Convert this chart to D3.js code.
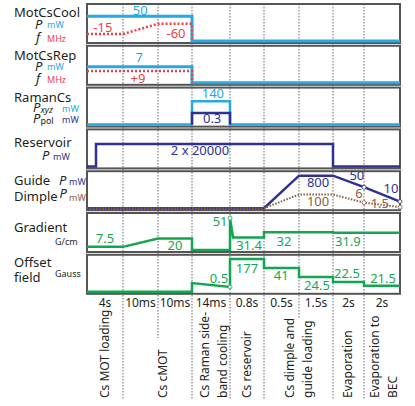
<!DOCTYPE html>
<html>
<head>
<meta charset="utf-8">
<script src="https://cdn.jsdelivr.net/npm/d3@7"></script>
<style>
  body { margin: 0; background: #fff; }
  svg text { font-family: "Noto Sans", sans-serif; }
</style>
</head>
<body>
<script>
// phases of the sequence
var durations = ["4s", "10ms", "10ms", "14ms", "0.8s", "0.5s", "1.5s", "2s", "2s"];
var phaseNames = ["Cs MOT loading", "Cs cMOT", "Cs Raman side-\nband cooling", "Cs reservoir",
                  "Cs dimple and\nguide loading", "Evaporation", "Evaporation to\nBEC"];

// traces: [time in phase units, relative level as drawn (0..1)]
var coolP    = [[0, .71], [3, .71], [3, 0], [9, 0]];
var coolF    = [[0, .2], [1, .2], [2, .49], [3, .49], [3, 0]];
var repP     = [[0, .46], [3, .46], [3, 0], [9, 0]];
var repF     = [[0, .34], [3, .34], [3, 0]];
var ramanXyz = [[0, 0], [3, 0], [3, .67], [4, .67], [4, 0], [9, 0]];
var ramanPol = [[3, 0], [3, .33], [4, .33], [4, 0]];
var resP     = [[0, 0], [0.25, 0], [0.25, .64], [7, .64], [7, 0], [9, 0]];
var guideP   = [[0, 0], [5, 0], [6, .93], [7, .93], [8, .6], [9, .19]];
var dimpleP  = [[0, 0], [5, 0], [6, .39], [7, .39], [8, .16], [9, .03]];
var gradient = [[0, .09], [1, .09], [2, .33], [3, .33], [3, 0], [4, 0], [4, .91], [4.09, .36],
                [5, .36], [5, .51], [7, .51], [7, .49], [9, .49]];
var offset   = [[0, 0], [3, 0], [3, .25], [4, .14], [4, .94], [5, .94], [5, .68], [6, .68],
                [6, .42], [7, .42], [7, .28], [8, .28], [8, .17], [9, .17]];

// value labels
var coolLabels   = ["50", "-15", "-60"];
var repLabels    = ["7", "+9"];
var ramanLabels  = ["140", "0.3"];
var resLabels    = ["2 x 20000"];
var guideLabels  = ["800", "50", "10"];
var dimpleLabels = ["100", "6", "1.5"];
var gradLabels   = ["7.5", "20", "51", "31.4", "32", "31.9"];
var offLabels    = ["0.5", "177", "41", "24.5", "22.5", "21.5"];

var cyan = "#25a9e0", red = "#ef3e4a", navy = "#2e3192", brown = "#8b5e3c", green = "#12a650", ink = "#231f20";

var width = 415, height = 406;
var svg = d3.select("body").append("svg").attr("width", width).attr("height", height);

// horizontal: piecewise scale over the 9 phases
var x = d3.scaleLinear()
  .domain(d3.range(10))
  .range([87, 123, 158, 192, 230, 264, 299, 333, 364, 400]);

var panelH = 39;
function panelTop(i) { return 4 + i * 41.8; }
function yOf(i) {
  return d3.scaleLinear().domain([0, 1]).range([panelTop(i) + panelH - 2, panelTop(i) + 2]);
}

// dotted phase dividers
var dividerEnd = [400, 338, 400, 400, 400, 318, 400, 400];
svg.append("g").selectAll("line")
  .data(d3.range(1, 9))
  .enter().append("line")
    .attr("x1", function(d) { return x(d); })
    .attr("x2", function(d) { return x(d); })
    .attr("y1", 4)
    .attr("y2", function(d) { return dividerEnd[d - 1]; })
    .attr("stroke", "#666")
    .attr("stroke-width", 1)
    .attr("stroke-dasharray", "1.5,1.5");

// panel boxes
svg.append("g").selectAll("rect")
  .data(d3.range(7))
  .enter().append("rect")
    .attr("x", x(0))
    .attr("y", function(d) { return panelTop(d); })
    .attr("width", x(9) - x(0))
    .attr("height", panelH)
    .attr("fill", "none")
    .attr("stroke", "#555")
    .attr("stroke-width", 2);

function trace(panel, data, color, w, dash) {
  var y = yOf(panel);
  var line = d3.line().x(function(d) { return x(d[0]); }).y(function(d) { return y(d[1]); });
  svg.append("path")
    .attr("d", line(data))
    .attr("fill", "none")
    .attr("stroke", color)
    .attr("stroke-width", w)
    .attr("stroke-dasharray", dash || null);
}

function marks(panel, pts, color) {
  var y = yOf(panel);
  svg.append("g").selectAll("circle")
    .data(pts)
    .enter().append("circle")
      .attr("cx", function(d) { return x(d[0]); })
      .attr("cy", function(d) { return y(d[1]); })
      .attr("r", 2)
      .attr("fill", "#fff")
      .attr("stroke", color)
      .attr("stroke-width", 0.8);
}

// values placed at [t, level] of their panel (text baseline)
function values(panel, labels, at, color) {
  var y = yOf(panel);
  svg.append("g").selectAll("text")
    .data(labels)
    .enter().append("text")
      .attr("x", function(d, i) { return x(at[i][0]); })
      .attr("y", function(d, i) { return y(at[i][1]); })
      .attr("text-anchor", "middle")
      .attr("font-size", 13)
      .attr("fill", color)
      .text(function(d) { return d; });
}

trace(0, coolP, cyan, 3);
trace(0, coolF, red, 2.5, "2,2");
trace(1, repP, cyan, 3);
trace(1, repF, red, 2.5, "2,2");
trace(2, ramanXyz, cyan, 2.5);
trace(2, ramanPol, navy, 2.5);
trace(3, resP, navy, 2.5);
trace(4, guideP, navy, 2.5);
trace(4, dimpleP, brown, 2, "1.5,1.5");
trace(5, gradient, green, 2.5);
trace(6, offset, green, 2.5);

marks(4, guideP.slice(4), navy);
marks(4, dimpleP.slice(4), brown);
marks(5, [gradient[6]], green);
marks(6, [offset[3]], green);

values(0, coolLabels.slice(0, 1), [[1.49, .74]], cyan);
values(0, coolLabels.slice(1), [[0.44, .26], [2.53, .1]], red);
values(1, repLabels.slice(0, 1), [[1.46, .6]], cyan);
values(1, repLabels.slice(1), [[1.43, 0]], red);
values(2, ramanLabels.slice(0, 1), [[3.55, .77]], cyan);
values(2, ramanLabels.slice(1), [[3.53, .05]], navy);
values(3, resLabels, [[3.21, .33]], navy);
values(4, guideLabels, [[6.56, .6], [7.77, .8], [8.75, .43]], navy);
values(4, dimpleLabels, [[6.56, .06], [7.84, .29], [8.44, .01]], brown);
values(5, gradLabels, [[0.5, .2], [2.5, 0], [3.74, .69], [4.56, 0], [5.57, .11], [7.48, .11]], green);
values(6, offLabels, [[3.71, .25], [4.5, .54], [5.49, .34], [6.53, .05], [7.45, .39], [8.53, .25]], green);

// left side labels
function sideText(px, py, parts) {
  var t = svg.append("text").attr("x", px).attr("y", py);
  parts.forEach(function(p) {
    t.append("tspan")
      .attr("font-size", p.size || 13)
      .attr("fill", p.color || ink)
      .attr("font-style", p.italic ? "italic" : null)
      .attr("baseline-shift", p.shift || null)
      .text(p.s);
  });
}
sideText(14, 17, [{s: "MotCsCool"}]);
sideText(35, 29, [{s: "P", italic: 1}]);
sideText(47, 28, [{s: "mW", size: 9, color: cyan}]);
sideText(36, 42, [{s: "f", italic: 1}]);
sideText(47, 42, [{s: "MHz", size: 9, color: red}]);

sideText(14, 60, [{s: "MotCsRep"}]);
sideText(35, 71, [{s: "P", italic: 1}]);
sideText(47, 70, [{s: "mW", size: 9, color: cyan}]);
sideText(36, 83, [{s: "f", italic: 1}]);
sideText(47, 83, [{s: "MHz", size: 9, color: red}]);

sideText(14, 102, [{s: "RamanCs"}]);
sideText(33, 112, [{s: "P", italic: 1}, {s: "xyz", size: 9, italic: 1, shift: "-1"}]);
sideText(62, 112, [{s: "mW", size: 9, color: cyan}]);
sideText(33, 123, [{s: "P", italic: 1}, {s: "pol", size: 9, shift: "-1"}]);
sideText(62, 123, [{s: "mW", size: 9, color: navy}]);

sideText(14, 147, [{s: "Reservoir"}]);
sideText(42, 160, [{s: "P", italic: 1}]);
sideText(53, 160, [{s: "mW", size: 9, color: navy}]);

sideText(14, 185, [{s: "Guide"}]);
sideText(59, 185, [{s: "P", italic: 1}]);
sideText(69, 185, [{s: "mW", size: 9, color: navy}]);
sideText(14, 201, [{s: "Dimple"}]);
sideText(59.5, 198, [{s: "P", italic: 1}]);
sideText(69, 201, [{s: "mW", size: 9, color: brown}]);

sideText(14, 232, [{s: "Gradient"}]);
sideText(55, 245, [{s: "G/cm", size: 9}]);
sideText(14, 267, [{s: "Offset"}]);
sideText(14, 282, [{s: "field"}]);
sideText(55, 277, [{s: "Gauss", size: 9}]);

// durations under the panels
svg.append("g").selectAll("text")
  .data(durations)
  .enter().append("text")
    .attr("x", function(d, i) { return (x(i) + x(i + 1)) / 2; })
    .attr("y", 307)
    .attr("text-anchor", "middle")
    .attr("font-size", 12)
    .attr("fill", ink)
    .text(function(d) { return d; });

// rotated phase names, centred at these phase positions
var phaseAt = [0.5, 2.15, 3.58, 4.5, 6.0, 7.48, 8.55];
var phaseText = svg.append("g").selectAll("text")
  .data(phaseNames)
  .enter().append("text")
    .attr("transform", function(d, i) { return "translate(" + x(phaseAt[i]) + ",398) rotate(-90)"; })
    .attr("font-size", 12)
    .attr("fill", ink);
phaseText.each(function(d) {
  var lines = d.split("\n");
  var g = d3.select(this);
  lines.forEach(function(s, j) {
    g.append("tspan")
      .attr("x", 0)
      .attr("y", 0)
      .attr("dy", (0.35 + (j - (lines.length - 1) / 2) * 1.5) + "em")
      .text(s);
  });
});
</script>
</body>
</html>
